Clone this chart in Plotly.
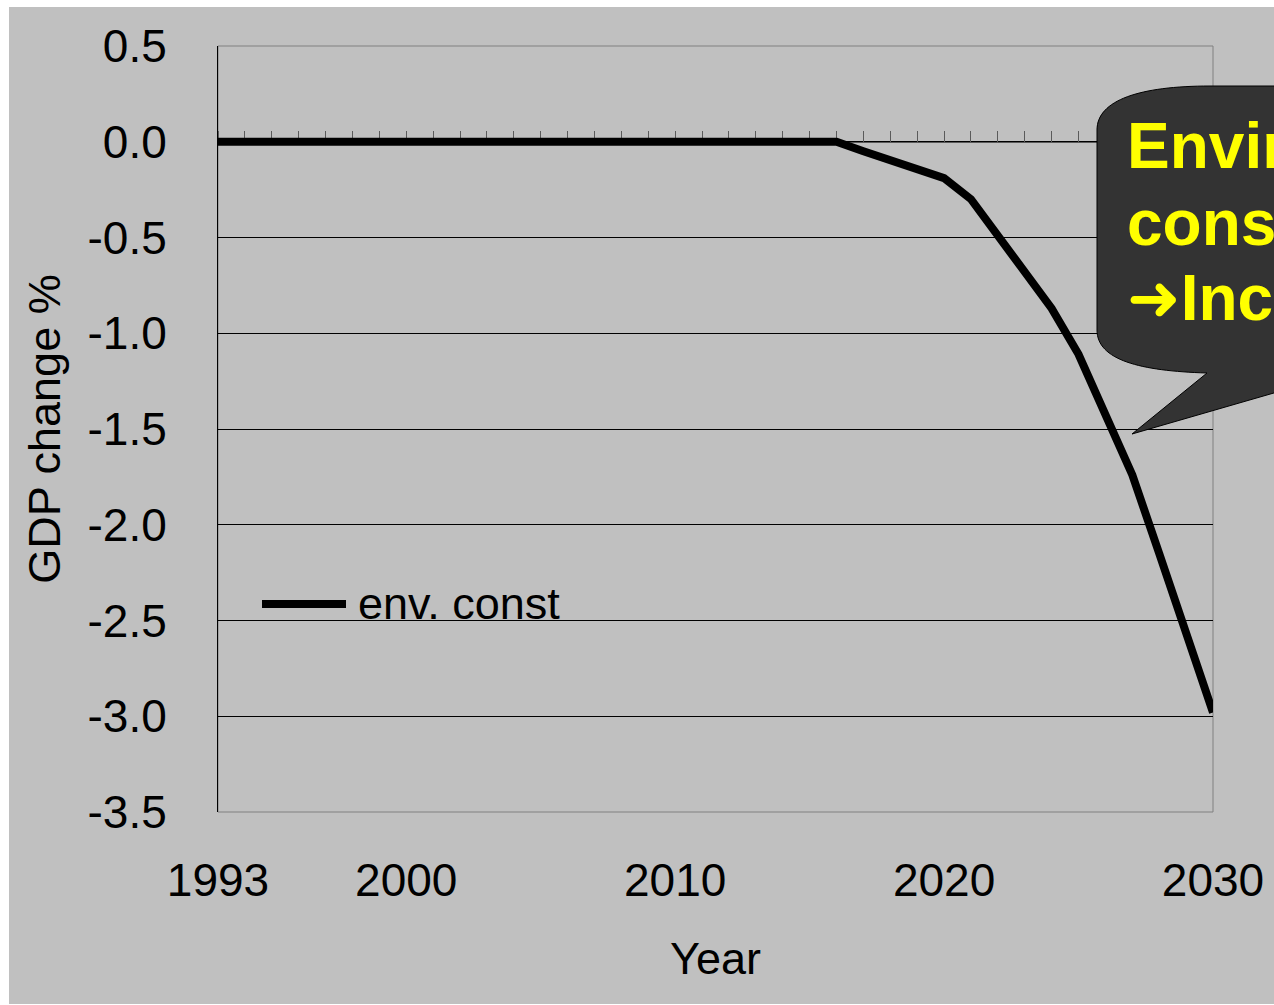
import plotly.graph_objects as go

# GDP change (%) under the environmental-constraint scenario
years = list(range(1993, 2031))
gdp_change = [
    0.0, 0.0, 0.0, 0.0, 0.0, 0.0, 0.0, 0.0, 0.0, 0.0,      # 1993-2002
    0.0, 0.0, 0.0, 0.0, 0.0, 0.0, 0.0, 0.0, 0.0, 0.0,      # 2003-2012
    0.0, 0.0, 0.0, 0.0,                                    # 2013-2016
    -0.05, -0.10, -0.15, -0.19, -0.30, -0.49, -0.68,       # 2017-2023
    -0.87, -1.11, -1.42, -1.74, -2.15, -2.55, -2.98,       # 2024-2030
]
series_name = "env. const"

x_tick_vals = [1993, 2000, 2010, 2020, 2030]
y_tick_vals = [0.5, 0.0, -0.5, -1.0, -1.5, -2.0, -2.5, -3.0, -3.5]
y_tick_text = ["0.5", "0.0", "-0.5", "-1.0", "-1.5", "-2.0", "-2.5", "-3.0", "-3.5"]

ARROW = "<span style='font-family:DejaVu Sans'>\u279c</span>"
callout_lines = ["Environmental", "constraint", ARROW + "Increase cost"]

# Page and plot-area geometry (pixels)
W, H = 1274, 1005
L, R, T, B = 218, 1213, 46, 812


def px(x):
    return (x - L) / (R - L)


def py(y):
    return (B - y) / (B - T)


FONT = "Arial, 'Liberation Sans', 'DejaVu Sans', sans-serif"
BG = "#c0c0c0"

fig = go.Figure()
fig.add_trace(go.Scatter(
    x=years, y=gdp_change, mode="lines", name=series_name,
    line=dict(color="black", width=8), showlegend=False,
))

fig.update_layout(
    width=W, height=H,
    margin=dict(l=L, r=W - R, t=T, b=H - B, autoexpand=False),
    paper_bgcolor=BG, plot_bgcolor=BG,
    font=dict(family=FONT, color="black", size=46),
    xaxis=dict(
        range=[1993, 2030], tickmode="array", tickvals=x_tick_vals,
        ticks="", showgrid=False, zeroline=False, showline=False,
        tickfont=dict(size=46), ticklabelstandoff=37,
        title=dict(text="Year", font=dict(size=45), standoff=37),
    ),
    xaxis2=dict(
        range=[1993, 2030], overlaying="x", anchor="free", position=0.875,
        side="top", showline=True, linecolor="#5a5a5a", linewidth=1,
        ticks="outside", ticklen=11, tickcolor="#5a5a5a", tickwidth=1,
        tickmode="linear", tick0=1993, dtick=1, showticklabels=False,
        showgrid=False, zeroline=False, layer="below traces",
    ),
    yaxis=dict(
        range=[-3.5, 0.5], tickmode="array", tickvals=y_tick_vals,
        ticktext=y_tick_text, ticks="inside", ticklen=15, tickcolor="black",
        tickwidth=1, showline=True, linecolor="black", linewidth=1,
        showgrid=True, gridcolor="black", gridwidth=1, zeroline=False,
        tickfont=dict(size=46), ticklabelstandoff=41,
        title=dict(text="GDP change %", font=dict(size=45), standoff=12),
    ),
)

# invisible trace so the year-tick axis at y=0 is drawn
fig.add_trace(go.Scatter(x=years, y=gdp_change, xaxis="x2", mode="lines",
                         line=dict(width=0), hoverinfo="skip", showlegend=False))

shapes = []
# grey plot-area border
shapes.append(dict(type="rect", xref="paper", yref="paper", x0=0, x1=1, y0=0, y1=1,
                   line=dict(color="#808080", width=1), fillcolor="rgba(0,0,0,0)",
                   layer="between"))
# legend background
shapes.append(dict(type="rect", xref="paper", yref="paper",
                   x0=px(220), x1=px(590), y0=py(635), y1=py(578),
                   line=dict(width=0), fillcolor=BG, layer="between"))
# legend line sample
shapes.append(dict(type="line", xref="paper", yref="paper",
                   x0=px(262), x1=px(346), y0=py(604), y1=py(604),
                   line=dict(color="black", width=8), layer="above"))

# speech-bubble callout
path = (
    f"M{px(1097)},{py(130)} "
    f"C{px(1097)},{py(100)} {px(1140)},{py(86)} {px(1210)},{py(86)} "
    f"L{px(1420)},{py(86)} L{px(1420)},{py(373)} L{px(1343)},{py(373)} "
    f"L{px(1132)},{py(434)} L{px(1207)},{py(373)} "
    f"C{px(1140)},{py(371)} {px(1097)},{py(360)} {px(1097)},{py(330)} Z"
)
shapes.append(dict(type="path", xref="paper", yref="paper", path=path,
                   fillcolor="#333333", line=dict(color="black", width=1),
                   layer="above"))

# white page edges
for x0, x1, y0, y1 in [(-20, 9, -20, 1030), (-20, 1400, -20, 7), (-20, 1400, 1004, 1030)]:
    shapes.append(dict(type="rect", xref="paper", yref="paper",
                       x0=px(x0), x1=px(x1), y0=py(y1), y1=py(y0),
                       line=dict(width=0), fillcolor="white", layer="above"))
fig.update_layout(shapes=shapes)

annotations = [
    dict(text=series_name, x=px(356), y=py(603), xref="paper", yref="paper",
         xanchor="left", yanchor="middle", showarrow=False,
         font=dict(size=45, color="black", family=FONT)),
]
for line, cy in zip(callout_lines, [146, 223, 298]):
    annotations.append(dict(
        text=f"<b>{line}</b>", x=px(1125), y=py(cy), xref="paper", yref="paper",
        xanchor="left", yanchor="middle", showarrow=False,
        font=dict(size=64, color="#ffff00", family=FONT),
    ))
fig.update_layout(annotations=annotations)

fig.write_html("out.html")
